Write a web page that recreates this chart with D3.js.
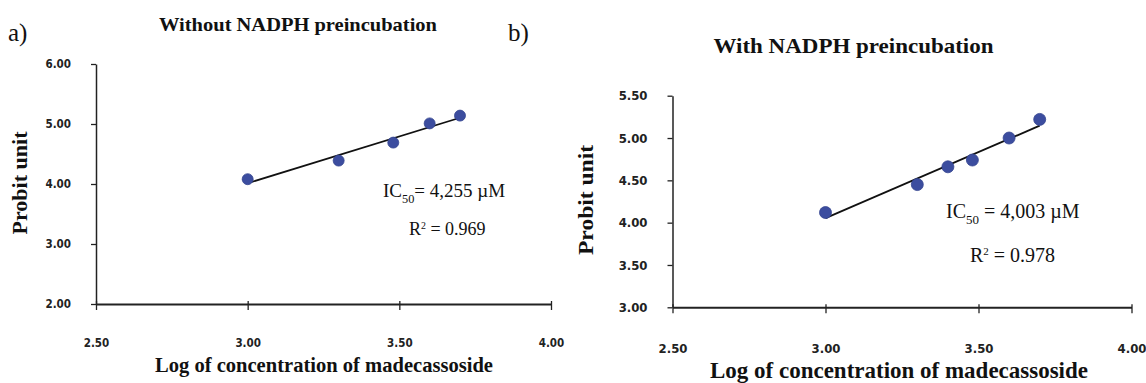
<!DOCTYPE html>
<html><head><meta charset="utf-8">
<script src="https://cdn.jsdelivr.net/npm/d3@7"></script>
<style>
html,body{margin:0;padding:0;background:#fff;}
svg{display:block;}
.serif{font-family:"Liberation Serif","Times New Roman",serif;fill:#111;}
.tick text{font-family:"Liberation Sans Narrow","DejaVu Sans Condensed","Liberation Sans",sans-serif;font-weight:bold;fill:#222;}
</style></head>
<body>
<svg id="chart" width="1146" height="383"></svg>
<script>
// ---- data ----
const panelLabels = ["a)", "b)"];
const titles = ["Without NADPH preincubation", "With NADPH preincubation"];
const xTitle = "Log of concentration of madecassoside";
const yTitle = "Probit unit";
const xTicks = [2.5, 3.0, 3.5, 4.0];
const yTicksA = [2, 3, 4, 5, 6];
const yTicksB = [3.0, 3.5, 4.0, 4.5, 5.0, 5.5];
const logConcA = [3.00, 3.30, 3.48, 3.60, 3.70];
const probitA  = [4.08, 4.39, 4.69, 5.01, 5.14];
const logConcB = [3.00, 3.30, 3.40, 3.48, 3.60, 3.70];
const probitB  = [4.12, 4.45, 4.66, 4.74, 5.00, 5.22];
const ic50Values = ["4,255", "4,003"];
const r2Values = ["0.969", "0.978"];

// ---- layout ----
const panels = [
  {xs: logConcA, ys: probitA, yTicks: yTicksA, xDom: [2.5, 4.0], yDom: [2, 6],
   xr: [96, 551], yr: [304, 64], tickFont: 11.5, xLabY: 347, r: 5.5,
   lab: {x: 8, y: 41, size: 25},
   title: {x: 298, y: 31, size: 19, len: 278},
   yt: {x: 20, y: 183, size: 20, len: 103},
   xt: {x: 324, y: 372, size: 21, len: 338},
   ic: {x: 383, y: 197, size: 19, len: 129, sep: ""},
   r2: {x: 409, y: 235, size: 18}},
  {xs: logConcB, ys: probitB, yTicks: yTicksB, xDom: [2.5, 4.0], yDom: [3, 5.5],
   xr: [672.5, 1131.5], yr: [307.3, 95.7], tickFont: 13, xLabY: 353, r: 6,
   lab: {x: 508, y: 41, size: 25},
   title: {x: 853.5, y: 53, size: 22, len: 280},
   yt: {x: 586, y: 200, size: 21, len: 110},
   xt: {x: 899, y: 378, size: 23, len: 378},
   ic: {x: 946, y: 218, size: 20, len: 135, sep: " "},
   r2: {x: 970, y: 262, size: 20}}
];

const svg = d3.select("#chart");

panels.forEach((p, i) => {
  const g = svg.append("g");
  const x = d3.scaleLinear().domain(p.xDom).range(p.xr);
  const y = d3.scaleLinear().domain(p.yDom).range(p.yr);

  // y axis
  const ya = g.append("g").attr("transform", `translate(${p.xr[0]},0)`)
    .call(d3.axisLeft(y).tickValues(p.yTicks).tickFormat(d3.format(".2f"))
      .tickSizeInner(5).tickSizeOuter(0).tickPadding(20));
  ya.select(".domain").attr("stroke", "#222").attr("stroke-width", 1.5);
  ya.selectAll(".tick line").attr("stroke", "#222").attr("stroke-width", 1.3);
  ya.selectAll(".tick text").style("font-size", p.tickFont + "px");

  // x axis
  const xa = g.append("g").attr("transform", `translate(0,${p.yr[0]})`)
    .call(d3.axisBottom(x).tickValues(xTicks).tickFormat(d3.format(".2f"))
      .tickSizeInner(6).tickSizeOuter(0));
  xa.select(".domain").attr("stroke", "#222").attr("stroke-width", 2);
  xa.selectAll(".tick line").attr("stroke", "#222").attr("stroke-width", 1.3)
    .attr("y1", -3).attr("y2", 6);
  xa.selectAll(".tick text").style("font-size", p.tickFont + "px")
    .attr("dy", null).attr("y", p.xLabY - p.yr[0]);

  // regression trend line
  const mx = d3.mean(p.xs), my = d3.mean(p.ys);
  const sxy = d3.sum(p.xs, (v, k) => (v - mx) * (p.ys[k] - my));
  const sxx = d3.sum(p.xs, v => (v - mx) * (v - mx));
  const slope = sxy / sxx, icpt = my - slope * mx;
  const ext = d3.extent(p.xs);
  g.append("path")
    .datum(ext.map(v => [v, icpt + slope * v]))
    .attr("d", d3.line().x(d => x(d[0])).y(d => y(d[1])))
    .attr("fill", "none").attr("stroke", "#111").attr("stroke-width", 1.8);

  // points
  g.selectAll("circle.pt").data(p.xs.map((v, k) => [v, p.ys[k]])).join("circle")
    .attr("class", "pt")
    .attr("cx", d => x(d[0])).attr("cy", d => y(d[1])).attr("r", p.r)
    .attr("fill", "#3c4d9f").attr("stroke", "#34448f").attr("stroke-width", 0.8);

  // panel label
  g.append("text").attr("class", "serif").attr("x", p.lab.x).attr("y", p.lab.y)
    .style("font-size", p.lab.size + "px").text(panelLabels[i]);

  // title
  g.append("text").attr("class", "serif").attr("x", p.title.x).attr("y", p.title.y)
    .attr("text-anchor", "middle").style("font-size", p.title.size + "px")
    .style("font-weight", "bold")
    .attr("textLength", p.title.len).attr("lengthAdjust", "spacingAndGlyphs")
    .text(titles[i]);

  // y title
  g.append("text").attr("class", "serif")
    .attr("transform", `translate(${p.yt.x},${p.yt.y}) rotate(-90)`)
    .attr("text-anchor", "middle").attr("dy", "0.35em")
    .style("font-size", p.yt.size + "px").style("font-weight", "bold")
    .attr("textLength", p.yt.len).attr("lengthAdjust", "spacingAndGlyphs")
    .text(yTitle);

  // x title
  g.append("text").attr("class", "serif").attr("x", p.xt.x).attr("y", p.xt.y)
    .attr("text-anchor", "middle").style("font-size", p.xt.size + "px")
    .style("font-weight", "bold")
    .attr("textLength", p.xt.len).attr("lengthAdjust", "spacingAndGlyphs")
    .text(xTitle);

  // IC50 annotation
  const ic = g.append("text").attr("class", "serif").attr("x", p.ic.x).attr("y", p.ic.y)
    .style("font-size", p.ic.size + "px");
  ic.append("tspan").text("IC");
  ic.append("tspan").attr("dy", p.ic.size * 0.3).style("font-size", (p.ic.size * 0.65) + "px").text("50");
  ic.append("tspan").attr("dy", -p.ic.size * 0.3).text(p.ic.sep + "= " + ic50Values[i] + " µM");

  // R2 annotation
  const r2 = g.append("text").attr("class", "serif").attr("x", p.r2.x).attr("y", p.r2.y)
    .style("font-size", p.r2.size + "px");
  r2.append("tspan").text("R");
  r2.append("tspan").attr("dy", -p.r2.size * 0.35).style("font-size", (p.r2.size * 0.55) + "px").text("2");
  r2.append("tspan").attr("dy", p.r2.size * 0.35).text(" = " + r2Values[i]);
});
</script>
</body></html>
